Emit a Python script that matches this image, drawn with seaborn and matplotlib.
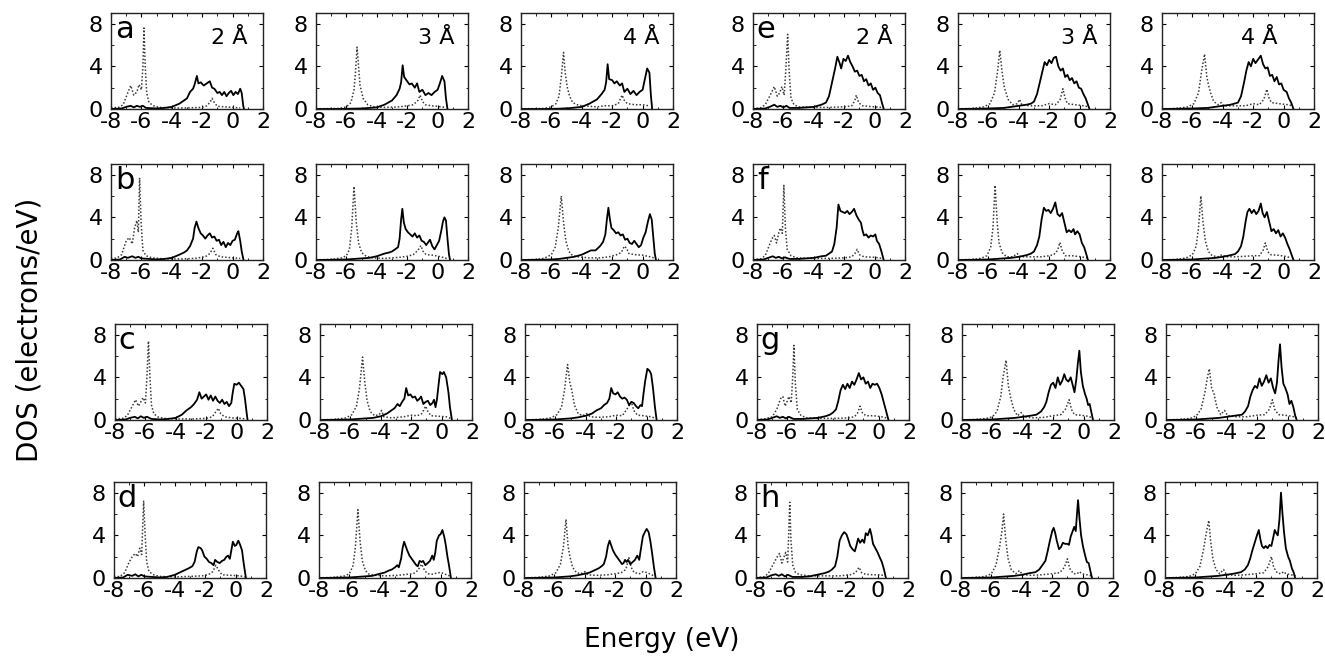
import matplotlib
matplotlib.use("Agg")
import matplotlib.pyplot as plt
import seaborn as sns
import pandas as pd
from matplotlib.ticker import MultipleLocator

# ---------------- data: (energy eV, DOS) key points ----------------
# Left group (a-d) and right group (e-h); columns = 2, 3, 4 Angstrom
a2_solid = [(-8,0),(-7.3,0.05),(-7,0.2),(-6.7,0.3),(-6.5,0.15),(-6.3,0.3),(-6.1,0.2),(-5.9,0.3),(-5.7,0.1),(-5,0.05),(-4.5,0.1),(-4,0.2),(-3.5,0.5),(-3,1.0),(-2.8,1.6),(-2.6,1.9),(-2.5,2.3),(-2.35,3.1),(-2.25,2.4),(-2.1,2.5),(-1.9,2.2),(-1.7,2.4),(-1.5,2.6),(-1.35,2.0),(-1.2,1.9),(-1.0,1.5),(-0.85,1.6),(-0.7,1.3),(-0.55,1.6),(-0.4,1.2),(-0.25,1.5),(-0.1,1.7),(0.05,1.3),(0.2,1.6),(0.35,1.4),(0.5,1.9),(0.6,1.5),(0.7,0.3),(0.75,0)]
a2_dot = [(-8,0.1),(-7.5,0.15),(-7.2,0.4),(-6.9,1.5),(-6.7,2.2),(-6.5,1.3),(-6.3,1.6),(-6.15,2.3),(-6.0,1.8),(-5.9,4.0),(-5.83,7.6),(-5.75,4),(-5.65,1.5),(-5.5,0.6),(-5.2,0.3),(-4.8,0.15),(-4,0.1),(-3,0.1),(-2,0.15),(-1.7,0.3),(-1.5,0.6),(-1.35,1.0),(-1.2,0.6),(-1.0,0.25),(-0.5,0.2),(0,0.15),(0.5,0.1)]
a3_solid = [(-8,0),(-7,0),(-6,0.02),(-5,0.05),(-4,0.15),(-3.5,0.4),(-3,0.8),(-2.7,1.3),(-2.5,1.9),(-2.4,2.5),(-2.3,4.1),(-2.2,3.0),(-2.1,2.8),(-2.0,2.6),(-1.85,2.3),(-1.7,2.4),(-1.5,2.0),(-1.35,2.4),(-1.2,1.6),(-1.0,1.8),(-0.8,1.3),(-0.6,1.5),(-0.4,1.3),(-0.2,1.6),(0,1.8),(0.15,2.4),(0.3,3.1),(0.45,2.6),(0.55,1.0),(0.65,0)]
a3_dot = [(-8,0.02),(-6.5,0.05),(-6,0.2),(-5.7,0.6),(-5.5,1.8),(-5.4,3.5),(-5.3,5.8),(-5.2,4.0),(-5.1,2.2),(-4.9,1.0),(-4.6,0.4),(-4.2,0.2),(-3.5,0.15),(-2.5,0.2),(-2,0.3),(-1.6,0.4),(-1.3,0.8),(-1.15,1.3),(-1.0,0.7),(-0.8,0.4),(-0.4,0.3),(0,0.25),(0.5,0.15)]
a4_solid = [(-8,0),(-6.5,0),(-5.5,0.03),(-4.8,0.08),(-4,0.2),(-3.5,0.5),(-3,0.9),(-2.7,1.4),(-2.5,1.8),(-2.4,2.5),(-2.3,4.2),(-2.2,2.8),(-2.0,2.7),(-1.85,2.4),(-1.7,2.6),(-1.5,2.2),(-1.35,2.4),(-1.2,1.6),(-1.0,1.9),(-0.8,1.4),(-0.6,1.7),(-0.4,1.3),(-0.2,1.6),(0,1.8),(0.15,2.8),(0.3,3.8),(0.45,3.4),(0.55,1.2),(0.63,0)]
a4_dot = [(-8,0.02),(-6.5,0.05),(-6,0.2),(-5.7,0.5),(-5.5,1.2),(-5.35,3.0),(-5.2,5.3),(-5.1,3.5),(-4.95,2.0),(-4.8,1.2),(-4.6,0.6),(-4.3,0.4),(-4,0.3),(-3,0.2),(-2.5,0.3),(-2,0.3),(-1.6,0.5),(-1.35,1.3),(-1.2,0.8),(-1.0,0.5),(-0.5,0.4),(0,0.4),(0.4,0.3)]

b2_solid = [(-8,0),(-7.4,0.05),(-7.1,0.3),(-6.9,0.2),(-6.6,0.35),(-6.4,0.2),(-6.2,0.3),(-6.0,0.15),(-5.5,0.1),(-5,0.05),(-4.5,0.1),(-4,0.2),(-3.5,0.5),(-3.2,0.7),(-3.0,0.9),(-2.8,1.3),(-2.6,2.0),(-2.5,3.0),(-2.38,3.6),(-2.25,3.0),(-2.1,2.5),(-1.95,2.3),(-1.8,2.0),(-1.65,2.3),(-1.5,2.5),(-1.35,2.1),(-1.2,2.2),(-1.05,1.8),(-0.9,1.9),(-0.75,1.4),(-0.6,1.7),(-0.45,1.2),(-0.3,1.6),(-0.15,1.4),(0,1.8),(0.15,1.9),(0.3,2.5),(0.38,2.7),(0.5,1.8),(0.6,0.8),(0.72,0)]
b2_dot = [(-8,0.1),(-7.6,0.2),(-7.3,0.5),(-7.0,1.8),(-6.8,2.1),(-6.6,1.5),(-6.45,3.0),(-6.3,3.7),(-6.2,2.6),(-6.12,7.7),(-6.02,3.5),(-5.9,0.9),(-5.7,0.4),(-5.3,0.2),(-4.5,0.1),(-3.5,0.1),(-2.5,0.15),(-1.8,0.3),(-1.5,0.6),(-1.3,1.1),(-1.1,0.5),(-0.8,0.3),(0,0.2),(0.5,0.15)]
b3_solid = [(-8,0),(-7,0.02),(-6,0.05),(-5.5,0.1),(-5,0.15),(-4.5,0.2),(-4,0.35),(-3.5,0.6),(-3.2,0.7),(-3,0.8),(-2.8,1.0),(-2.6,1.2),(-2.5,2.0),(-2.4,3.8),(-2.32,4.8),(-2.22,3.5),(-2.1,2.9),(-1.95,2.6),(-1.8,2.4),(-1.65,2.2),(-1.5,2.5),(-1.35,2.1),(-1.2,2.3),(-1.05,1.8),(-0.9,1.7),(-0.75,1.4),(-0.6,1.7),(-0.5,1.9),(-0.35,1.3),(-0.2,1.0),(-0.05,1.4),(0.1,1.8),(0.25,2.8),(0.35,3.6),(0.45,4.0),(0.55,3.7),(0.65,2.0),(0.75,0.5),(0.82,0)]
b3_dot = [(-8,0.02),(-7,0.05),(-6.3,0.2),(-6.0,0.4),(-5.8,1.0),(-5.65,3.0),(-5.5,6.9),(-5.35,3.5),(-5.2,1.6),(-5.0,0.7),(-4.7,0.35),(-4.3,0.2),(-3.5,0.15),(-2.5,0.25),(-2.0,0.35),(-1.6,0.5),(-1.3,0.9),(-1.1,1.35),(-0.95,0.8),(-0.75,0.5),(-0.3,0.45),(0.2,0.3),(0.6,0.15)]
b4_solid = [(-8,0),(-7,0.02),(-6,0.05),(-5.5,0.1),(-5,0.2),(-4.5,0.3),(-4,0.5),(-3.7,0.7),(-3.4,0.9),(-3.1,0.9),(-2.8,1.3),(-2.6,1.7),(-2.45,2.4),(-2.35,3.8),(-2.25,4.9),(-2.15,3.8),(-2.05,3.0),(-1.9,2.8),(-1.75,2.5),(-1.6,2.6),(-1.45,2.3),(-1.3,2.4),(-1.15,1.9),(-1.0,2.0),(-0.85,1.6),(-0.7,1.5),(-0.55,1.8),(-0.4,1.5),(-0.25,1.2),(-0.1,1.4),(0.05,2.1),(0.2,2.6),(0.35,3.6),(0.48,4.3),(0.6,3.8),(0.7,2.2),(0.8,0.6),(0.88,0)]
b4_dot = [(-8,0.02),(-7,0.05),(-6.5,0.15),(-6.0,0.5),(-5.75,1.2),(-5.55,3.0),(-5.35,6.0),(-5.2,3.5),(-5.05,1.8),(-4.85,0.8),(-4.6,0.4),(-4.2,0.3),(-3.6,0.2),(-2.8,0.2),(-2.2,0.3),(-1.7,0.5),(-1.4,0.7),(-1.2,1.3),(-1.05,1.1),(-0.9,0.6),(-0.5,0.5),(0,0.45),(0.5,0.3),(0.75,0.2)]

c2_solid = [(-8,0),(-7.3,0.05),(-7.0,0.2),(-6.7,0.3),(-6.5,0.15),(-6.3,0.35),(-6.1,0.2),(-5.9,0.3),(-5.6,0.1),(-5,0.05),(-4.5,0.1),(-4,0.2),(-3.6,0.5),(-3.3,0.9),(-3.0,1.2),(-2.8,1.5),(-2.6,1.9),(-2.45,2.6),(-2.3,2.0),(-2.15,2.2),(-2.0,2.4),(-1.85,1.9),(-1.7,2.3),(-1.55,1.8),(-1.4,2.2),(-1.25,1.8),(-1.1,1.6),(-0.95,1.9),(-0.8,1.5),(-0.65,1.7),(-0.5,1.3),(-0.35,1.6),(-0.25,2.6),(-0.15,3.4),(0,3.3),(0.15,3.5),(0.3,3.2),(0.45,2.9),(0.55,2.0),(0.65,0.8),(0.72,0)]
c2_dot = [(-8,0.1),(-7.5,0.15),(-7.2,0.4),(-6.9,1.2),(-6.65,1.9),(-6.45,1.3),(-6.3,1.7),(-6.15,2.1),(-6.0,1.6),(-5.9,4.0),(-5.8,7.4),(-5.7,4.0),(-5.6,1.4),(-5.45,0.6),(-5.2,0.3),(-4.8,0.15),(-4,0.1),(-3,0.1),(-2,0.15),(-1.6,0.3),(-1.4,0.7),(-1.2,1.1),(-1.05,0.6),(-0.8,0.3),(-0.3,0.2),(0.3,0.15),(0.6,0.1)]
c3_solid = [(-8,0),(-7,0.02),(-6,0.05),(-5.5,0.1),(-5,0.15),(-4.5,0.2),(-4,0.35),(-3.6,0.6),(-3.3,0.9),(-3.1,1.1),(-2.9,1.5),(-2.75,1.3),(-2.6,1.7),(-2.45,2.0),(-2.33,3.0),(-2.2,2.3),(-2.05,2.4),(-1.9,2.1),(-1.75,2.2),(-1.6,1.8),(-1.45,2.0),(-1.35,2.2),(-1.2,1.5),(-1.05,1.7),(-0.9,1.8),(-0.75,1.4),(-0.6,1.6),(-0.5,1.9),(-0.4,1.2),(-0.3,2.0),(-0.2,3.3),(-0.1,4.5),(0.05,4.3),(0.15,4.5),(0.3,4.0),(0.45,2.6),(0.55,1.2),(0.68,0)]
c3_dot = [(-8,0.02),(-7,0.05),(-6.3,0.2),(-5.9,0.5),(-5.6,1.3),(-5.4,3.0),(-5.2,5.9),(-5.05,3.5),(-4.9,1.8),(-4.7,0.8),(-4.4,0.4),(-4.1,0.5),(-3.95,0.9),(-3.8,0.3),(-3.3,0.2),(-2.5,0.3),(-2.0,0.45),(-1.6,0.4),(-1.3,0.6),(-1.05,1.3),(-0.9,0.8),(-0.7,0.4),(-0.2,0.35),(0.3,0.3),(0.6,0.15)]
c4_solid = [(-8,0),(-7,0.02),(-6,0.05),(-5.5,0.1),(-5,0.15),(-4.5,0.25),(-4,0.4),(-3.6,0.6),(-3.3,0.9),(-3.0,1.1),(-2.8,1.4),(-2.6,1.6),(-2.45,2.0),(-2.33,3.0),(-2.2,2.5),(-2.05,2.4),(-1.9,2.6),(-1.75,2.2),(-1.6,2.0),(-1.45,2.1),(-1.3,1.9),(-1.15,1.4),(-1.0,1.7),(-0.85,1.6),(-0.7,1.3),(-0.55,1.1),(-0.4,1.4),(-0.3,1.3),(-0.2,2.5),(-0.1,3.6),(0.05,4.8),(0.2,4.6),(0.3,4.3),(0.42,3.0),(0.55,1.2),(0.66,0)]
c4_dot = [(-8,0.02),(-7,0.05),(-6.3,0.2),(-5.9,0.5),(-5.6,1.2),(-5.4,2.8),(-5.2,5.2),(-5.05,3.5),(-4.92,2.8),(-4.75,1.4),(-4.5,0.6),(-4.2,0.4),(-3.95,0.6),(-3.7,0.3),(-3.2,0.25),(-2.5,0.3),(-2.0,0.45),(-1.6,0.4),(-1.35,0.9),(-1.0,1.7),(-0.85,0.9),(-0.6,0.45),(-0.2,0.4),(0.3,0.3),(0.6,0.15)]

d2_solid = [(-8,0),(-7.4,0.05),(-7.1,0.3),(-6.8,0.2),(-6.6,0.35),(-6.4,0.15),(-6.2,0.3),(-6.0,0.15),(-5.5,0.1),(-5,0.05),(-4.5,0.1),(-4,0.3),(-3.7,0.5),(-3.4,0.7),(-3.1,0.9),(-2.85,1.1),(-2.7,1.5),(-2.55,2.5),(-2.45,2.9),(-2.3,2.8),(-2.2,2.6),(-2.05,2.0),(-1.9,1.8),(-1.75,1.5),(-1.6,1.4),(-1.45,1.2),(-1.35,1.7),(-1.2,1.5),(-1.05,1.4),(-0.9,1.6),(-0.75,1.7),(-0.6,2.0),(-0.5,2.1),(-0.38,1.8),(-0.28,2.6),(-0.18,3.4),(-0.05,3.0),(0.05,3.1),(0.18,3.5),(0.3,3.1),(0.42,2.6),(0.55,1.2),(0.68,0)]
d2_dot = [(-8,0.1),(-7.6,0.15),(-7.3,0.5),(-7.0,1.5),(-6.8,2.0),(-6.6,2.3),(-6.45,2.0),(-6.3,2.8),(-6.18,2.2),(-6.12,4.5),(-6.05,7.2),(-5.95,4.0),(-5.85,1.5),(-5.7,0.6),(-5.4,0.3),(-5.0,0.15),(-4,0.1),(-3,0.15),(-2.2,0.2),(-1.8,0.3),(-1.5,0.6),(-1.3,1.2),(-1.1,0.7),(-0.9,0.3),(-0.3,0.25),(0.3,0.2),(0.6,0.1)]
d3_solid = [(-8,0),(-7,0.02),(-6,0.05),(-5.5,0.1),(-5,0.15),(-4.5,0.2),(-4,0.4),(-3.7,0.5),(-3.4,0.7),(-3.2,0.8),(-3.0,1.0),(-2.85,1.2),(-2.75,1.0),(-2.6,1.8),(-2.5,2.8),(-2.4,3.4),(-2.3,3.0),(-2.2,2.6),(-2.05,2.1),(-1.9,1.8),(-1.75,1.5),(-1.6,1.2),(-1.5,1.1),(-1.38,1.6),(-1.25,1.5),(-1.15,1.6),(-1.0,1.2),(-0.85,1.4),(-0.7,1.6),(-0.55,2.1),(-0.45,1.7),(-0.35,2.4),(-0.25,3.5),(-0.1,4.0),(0.0,4.1),(0.12,4.5),(0.25,3.8),(0.35,3.0),(0.45,2.0),(0.55,1.2),(0.68,0)]
d3_dot = [(-8,0.02),(-7,0.05),(-6.3,0.2),(-6.0,0.4),(-5.75,1.2),(-5.6,3.0),(-5.44,6.4),(-5.3,3.5),(-5.15,1.6),(-4.95,0.7),(-4.7,0.35),(-4.3,0.25),(-3.6,0.2),(-2.8,0.25),(-2.2,0.35),(-1.8,0.4),(-1.5,0.7),(-1.25,1.3),(-1.05,0.7),(-0.85,0.4),(-0.5,0.35),(-0.2,0.5),(0.05,0.5),(0.3,0.35),(0.6,0.2)]
d4_solid = [(-8,0),(-7,0.02),(-6,0.05),(-5.5,0.1),(-5,0.15),(-4.5,0.25),(-4,0.4),(-3.7,0.5),(-3.4,0.7),(-3.1,0.9),(-2.9,1.1),(-2.75,1.3),(-2.6,2.0),(-2.48,3.0),(-2.37,3.5),(-2.25,3.0),(-2.15,2.6),(-2.0,2.2),(-1.85,1.9),(-1.7,1.6),(-1.55,1.3),(-1.45,1.4),(-1.35,1.7),(-1.25,1.5),(-1.15,1.7),(-1.0,1.3),(-0.85,1.5),(-0.7,1.7),(-0.55,2.1),(-0.42,1.7),(-0.3,2.8),(-0.18,3.9),(-0.05,4.3),(0.07,4.6),(0.2,4.3),(0.32,3.4),(0.42,2.4),(0.55,1.0),(0.66,0)]
d4_dot = [(-8,0.02),(-7,0.05),(-6.3,0.2),(-5.9,0.5),(-5.6,1.3),(-5.4,3.0),(-5.24,5.5),(-5.1,3.0),(-4.98,2.0),(-4.8,1.0),(-4.55,0.5),(-4.25,0.4),(-4.0,0.6),(-3.8,0.3),(-3.2,0.25),(-2.5,0.3),(-2.0,0.4),(-1.6,0.5),(-1.3,0.8),(-1.1,1.9),(-0.95,1.0),(-0.75,0.5),(-0.4,0.4),(-0.15,0.6),(0.1,0.5),(0.4,0.3),(0.6,0.15)]

e2_solid = [(-8,0),(-7.2,0.05),(-6.9,0.2),(-6.6,0.4),(-6.4,0.2),(-6.2,0.3),(-6.0,0.15),(-5.8,0.3),(-5.6,0.1),(-5,0.1),(-4.5,0.15),(-4,0.2),(-3.5,0.4),(-3.2,0.6),(-3.0,1.2),(-2.8,2.5),(-2.6,3.8),(-2.45,4.9),(-2.3,4.3),(-2.2,3.8),(-2.05,4.7),(-1.9,4.5),(-1.75,5.0),(-1.6,4.4),(-1.45,4.0),(-1.3,3.5),(-1.15,3.6),(-1.0,3.1),(-0.85,3.2),(-0.7,2.6),(-0.55,2.8),(-0.4,2.2),(-0.25,2.4),(-0.1,1.8),(0.05,2.0),(0.2,1.5),(0.35,1.3),(0.5,0.5),(0.6,0)]
e2_dot = [(-8,0.05),(-7.5,0.1),(-7.2,0.4),(-6.9,1.2),(-6.6,2.1),(-6.4,1.2),(-6.25,1.5),(-6.1,2.1),(-5.95,1.3),(-5.85,3.5),(-5.72,7.0),(-5.62,3.5),(-5.5,1.0),(-5.3,0.4),(-5,0.2),(-4,0.15),(-3,0.15),(-2,0.2),(-1.5,0.3),(-1.3,0.8),(-1.2,1.3),(-1.05,0.6),(-0.8,0.3),(0,0.2),(0.5,0.15)]
e3_solid = [(-8,0),(-7,0.02),(-6,0.05),(-5,0.1),(-4.5,0.2),(-4,0.3),(-3.5,0.4),(-3.2,0.5),(-3.0,0.7),(-2.8,1.4),(-2.6,2.6),(-2.45,3.5),(-2.3,4.4),(-2.15,4.1),(-2.0,4.6),(-1.85,4.3),(-1.7,4.8),(-1.55,4.9),(-1.4,4.0),(-1.25,3.6),(-1.1,3.8),(-0.95,3.0),(-0.8,3.2),(-0.65,2.7),(-0.5,2.9),(-0.35,2.4),(-0.2,2.6),(-0.05,2.0),(0.1,1.9),(0.25,1.4),(0.4,1.0),(0.55,0.4),(0.65,0)]
e3_dot = [(-8,0.02),(-7,0.05),(-6.3,0.2),(-5.9,0.5),(-5.6,1.5),(-5.4,3.5),(-5.25,5.5),(-5.1,3.5),(-4.95,2.0),(-4.7,0.9),(-4.4,0.4),(-4.1,0.5),(-3.95,0.9),(-3.8,0.4),(-3.3,0.3),(-2.5,0.3),(-2.0,0.5),(-1.6,0.4),(-1.3,0.8),(-1.1,1.9),(-0.95,1.0),(-0.8,0.5),(-0.3,0.4),(0.3,0.3),(0.6,0.2)]
e4_solid = [(-8,0),(-7,0.02),(-6,0.05),(-5,0.1),(-4.5,0.2),(-4,0.3),(-3.5,0.4),(-3.0,0.6),(-2.8,1.2),(-2.6,2.5),(-2.45,3.6),(-2.3,4.4),(-2.15,4.0),(-2.0,4.7),(-1.85,4.3),(-1.7,4.6),(-1.5,5.0),(-1.35,4.2),(-1.2,3.8),(-1.05,3.9),(-0.9,3.1),(-0.75,3.2),(-0.6,2.6),(-0.45,3.0),(-0.3,2.3),(-0.15,2.4),(0,1.8),(0.2,1.6),(0.35,1.0),(0.5,0.6),(0.65,0)]
e4_dot = [(-8,0.02),(-7,0.05),(-6.3,0.2),(-5.9,0.5),(-5.6,1.5),(-5.4,3.5),(-5.2,5.15),(-5.05,3.0),(-4.95,2.3),(-4.8,1.5),(-4.6,0.7),(-4.3,0.4),(-4.1,0.6),(-3.95,0.3),(-3.3,0.3),(-2.5,0.3),(-2.0,0.5),(-1.6,0.4),(-1.3,0.9),(-1.1,1.85),(-0.95,1.0),(-0.8,0.6),(-0.3,0.5),(0.3,0.4),(0.6,0.3)]

f2_solid = [(-8,0),(-7.3,0.05),(-7.0,0.2),(-6.7,0.35),(-6.5,0.2),(-6.3,0.3),(-6.1,0.15),(-5.9,0.25),(-5.6,0.1),(-5,0.1),(-4.5,0.15),(-4,0.2),(-3.5,0.35),(-3.2,0.4),(-3.0,0.6),(-2.8,0.8),(-2.65,1.5),(-2.5,3.0),(-2.38,5.2),(-2.25,4.6),(-2.1,4.5),(-1.95,4.4),(-1.8,4.6),(-1.65,4.3),(-1.5,4.5),(-1.35,4.8),(-1.2,4.2),(-1.05,3.8),(-0.9,3.5),(-0.8,2.8),(-0.7,2.3),(-0.55,2.4),(-0.4,2.1),(-0.25,2.3),(-0.1,2.2),(0.05,2.4),(0.15,1.8),(0.3,1.5),(0.45,0.8),(0.6,0)]
f2_dot = [(-8,0.05),(-7.5,0.1),(-7.2,0.4),(-6.95,1.3),(-6.75,2.0),(-6.6,2.3),(-6.45,1.6),(-6.3,2.6),(-6.2,3.0),(-6.07,2.5),(-5.97,7.0),(-5.87,3.0),(-5.75,1.0),(-5.5,0.4),(-5.1,0.2),(-4,0.15),(-3,0.15),(-2,0.2),(-1.5,0.3),(-1.3,0.6),(-1.15,1.0),(-1.0,0.5),(-0.7,0.3),(0,0.25),(0.5,0.15)]
f3_solid = [(-8,0),(-7,0.02),(-6,0.05),(-5.5,0.1),(-5,0.15),(-4.5,0.2),(-4,0.3),(-3.5,0.45),(-3.2,0.6),(-3.0,0.8),(-2.8,1.4),(-2.65,2.2),(-2.5,3.8),(-2.35,4.9),(-2.2,4.6),(-2.05,4.7),(-1.9,4.4),(-1.75,4.8),(-1.6,5.4),(-1.45,4.3),(-1.3,4.1),(-1.15,4.4),(-1.0,3.5),(-0.85,2.6),(-0.7,2.8),(-0.55,2.6),(-0.4,2.9),(-0.3,2.4),(-0.15,2.7),(0,2.4),(0.15,1.6),(0.3,1.2),(0.45,0.5),(0.55,0)]
f3_dot = [(-8,0.02),(-7,0.05),(-6.5,0.15),(-6.1,0.4),(-5.85,1.2),(-5.7,3.0),(-5.56,7.0),(-5.42,3.5),(-5.3,1.6),(-5.1,0.7),(-4.8,0.3),(-4.4,0.3),(-4.1,0.6),(-3.9,0.3),(-3.2,0.3),(-2.5,0.3),(-2.0,0.4),(-1.7,0.5),(-1.45,0.9),(-1.3,1.65),(-1.15,0.9),(-0.95,0.4),(-0.5,0.4),(0.1,0.3),(0.5,0.2)]
f4_solid = [(-8,0),(-7,0.02),(-6,0.05),(-5.5,0.1),(-5,0.15),(-4.5,0.2),(-4,0.3),(-3.5,0.45),(-3.2,0.55),(-3.0,0.8),(-2.8,1.3),(-2.65,2.2),(-2.5,3.6),(-2.38,4.5),(-2.25,4.8),(-2.1,4.4),(-1.95,4.7),(-1.8,4.3),(-1.65,4.6),(-1.5,5.3),(-1.38,4.4),(-1.25,4.0),(-1.1,4.5),(-0.95,3.6),(-0.8,2.7),(-0.65,2.9),(-0.5,2.5),(-0.35,2.8),(-0.2,2.2),(-0.05,2.5),(0.1,2.1),(0.25,1.5),(0.4,1.0),(0.55,0.4),(0.65,0)]
f4_dot = [(-8,0.02),(-7,0.05),(-6.4,0.2),(-6.0,0.5),(-5.75,1.3),(-5.6,3.0),(-5.44,6.0),(-5.3,3.5),(-5.15,1.8),(-4.95,0.8),(-4.7,0.4),(-4.3,0.3),(-4.05,0.5),(-3.8,0.3),(-3.2,0.3),(-2.5,0.35),(-2.0,0.4),(-1.6,0.4),(-1.35,0.9),(-1.2,1.6),(-1.05,0.8),(-0.85,0.5),(-0.4,0.45),(0.1,0.35),(0.5,0.2)]

g2_solid = [(-8,0),(-7.3,0.05),(-7.0,0.2),(-6.7,0.35),(-6.5,0.2),(-6.3,0.3),(-6.1,0.15),(-5.9,0.3),(-5.6,0.1),(-5,0.1),(-4.5,0.15),(-4,0.2),(-3.5,0.35),(-3.2,0.5),(-3.0,0.7),(-2.8,1.0),(-2.65,1.8),(-2.5,2.8),(-2.35,3.3),(-2.2,2.9),(-2.05,3.4),(-1.9,3.0),(-1.75,3.6),(-1.6,3.3),(-1.45,3.8),(-1.3,4.4),(-1.15,3.8),(-1.0,4.0),(-0.85,3.4),(-0.7,3.6),(-0.55,3.0),(-0.4,3.4),(-0.25,3.3),(-0.1,3.4),(0.05,3.0),(0.2,2.4),(0.35,1.6),(0.5,0.8),(0.65,0)]
g2_dot = [(-8,0.05),(-7.5,0.1),(-7.0,0.3),(-6.7,1.0),(-6.45,2.0),(-6.3,2.2),(-6.15,1.3),(-6.0,1.8),(-5.9,2.2),(-5.75,1.6),(-5.65,4.0),(-5.57,7.0),(-5.48,3.5),(-5.35,1.0),(-5.1,0.4),(-4.7,0.2),(-4,0.15),(-3,0.15),(-2,0.2),(-1.6,0.3),(-1.4,0.6),(-1.22,1.3),(-1.05,0.6),(-0.8,0.4),(-0.3,0.4),(0.2,0.3),(0.5,0.2)]
g3_solid = [(-8,0),(-7,0.02),(-6,0.05),(-5.5,0.1),(-5,0.15),(-4.5,0.2),(-4,0.3),(-3.5,0.4),(-3.1,0.5),(-2.8,0.8),(-2.6,1.2),(-2.45,1.7),(-2.3,2.6),(-2.15,3.3),(-2.0,3.5),(-1.85,3.0),(-1.7,4.0),(-1.55,3.3),(-1.4,3.7),(-1.27,4.3),(-1.15,3.8),(-1.0,3.6),(-0.85,4.0),(-0.72,3.3),(-0.6,2.6),(-0.48,3.8),(-0.38,5.3),(-0.28,6.5),(-0.18,4.5),(-0.05,3.2),(0.1,2.4),(0.2,2.0),(0.3,1.4),(0.4,1.5),(0.5,0.8),(0.62,0)]
g3_dot = [(-8,0.02),(-7,0.05),(-6.4,0.15),(-6.0,0.3),(-5.7,0.8),(-5.45,2.2),(-5.3,4.0),(-5.1,5.6),(-4.95,3.2),(-4.8,2.1),(-4.6,1.0),(-4.35,0.4),(-4.1,0.7),(-3.9,0.3),(-3.3,0.2),(-2.6,0.25),(-2.0,0.4),(-1.5,0.5),(-1.2,1.0),(-0.95,1.9),(-0.8,1.0),(-0.6,0.5),(-0.2,0.45),(0.3,0.35),(0.6,0.2)]
g4_solid = [(-8,0),(-7,0.02),(-6,0.05),(-5.5,0.1),(-5,0.15),(-4.5,0.2),(-4,0.3),(-3.5,0.4),(-3.0,0.5),(-2.8,0.8),(-2.6,1.3),(-2.45,2.2),(-2.3,2.8),(-2.15,3.2),(-2.0,3.0),(-1.85,3.9),(-1.7,3.2),(-1.55,3.6),(-1.4,4.2),(-1.25,3.5),(-1.1,3.9),(-0.95,3.0),(-0.82,2.5),(-0.7,3.5),(-0.6,5.5),(-0.5,7.1),(-0.4,5.0),(-0.28,3.4),(-0.15,3.0),(0,2.4),(0.12,1.5),(0.25,1.8),(0.38,1.2),(0.5,0.4),(0.6,0)]
g4_dot = [(-8,0.02),(-7,0.05),(-6.4,0.15),(-6.0,0.4),(-5.7,1.0),(-5.45,2.5),(-5.3,3.8),(-5.15,4.8),(-5.0,3.0),(-4.85,2.5),(-4.65,1.2),(-4.4,0.5),(-4.15,0.9),(-3.95,0.4),(-3.4,0.3),(-2.7,0.3),(-2.0,0.45),(-1.5,0.5),(-1.2,1.0),(-1.0,1.9),(-0.85,1.0),(-0.6,0.5),(-0.2,0.45),(0.3,0.35),(0.6,0.2)]

h2_solid = [(-8,0),(-7.3,0.05),(-7.0,0.25),(-6.7,0.35),(-6.5,0.2),(-6.3,0.35),(-6.1,0.15),(-5.9,0.3),(-5.6,0.1),(-5,0.1),(-4.5,0.15),(-4,0.3),(-3.5,0.45),(-3.2,0.6),(-3.0,0.8),(-2.8,1.1),(-2.65,2.0),(-2.5,3.5),(-2.35,4.0),(-2.2,4.3),(-2.05,4.1),(-1.95,3.7),(-1.8,3.0),(-1.65,2.7),(-1.5,2.5),(-1.4,3.0),(-1.28,3.7),(-1.15,3.3),(-1.0,3.6),(-0.88,3.3),(-0.78,4.2),(-0.65,4.0),(-0.5,4.6),(-0.4,4.0),(-0.3,3.2),(-0.15,2.8),(0.0,2.4),(0.15,1.9),(0.28,1.5),(0.42,0.8),(0.55,0)]
h2_dot = [(-8,0.05),(-7.5,0.1),(-7.2,0.4),(-6.9,1.2),(-6.6,2.0),(-6.45,2.3),(-6.3,1.4),(-6.15,2.0),(-6.05,2.4),(-5.92,1.5),(-5.85,4.0),(-5.78,7.1),(-5.7,3.5),(-5.58,1.2),(-5.4,0.5),(-5.1,0.3),(-4.5,0.2),(-3.5,0.2),(-2.5,0.2),(-1.8,0.3),(-1.45,0.5),(-1.22,1.0),(-1.05,0.5),(-0.8,0.35),(-0.3,0.3),(0.2,0.3),(0.5,0.2)]
h3_solid = [(-8,0),(-7,0.02),(-6,0.05),(-5.5,0.1),(-5,0.15),(-4.5,0.2),(-4,0.3),(-3.5,0.45),(-3.1,0.55),(-2.85,0.8),(-2.6,1.3),(-2.45,1.6),(-2.3,2.5),(-2.15,3.5),(-2.0,4.4),(-1.9,4.7),(-1.8,4.2),(-1.7,3.5),(-1.55,2.7),(-1.42,2.9),(-1.3,3.3),(-1.15,3.2),(-1.0,3.2),(-0.9,3.1),(-0.78,3.9),(-0.65,4.4),(-0.55,4.8),(-0.45,4.4),(-0.38,5.8),(-0.3,7.3),(-0.2,5.5),(-0.1,4.0),(0.02,3.0),(0.15,2.2),(0.28,1.5),(0.4,1.4),(0.52,0.6),(0.62,0)]
h3_dot = [(-8,0.02),(-7,0.05),(-6.4,0.15),(-6.0,0.4),(-5.7,1.2),(-5.45,3.0),(-5.3,4.5),(-5.2,6.0),(-5.05,3.5),(-4.9,1.8),(-4.7,0.8),(-4.4,0.4),(-4.15,0.7),(-3.95,0.3),(-3.4,0.25),(-2.7,0.3),(-2.0,0.4),(-1.5,0.5),(-1.2,1.0),(-1.0,1.8),(-0.85,0.9),(-0.6,0.4),(-0.35,0.4),(-0.22,0.6),(-0.05,0.4),(0.3,0.3),(0.6,0.2)]
h4_solid = [(-8,0),(-7,0.02),(-6,0.05),(-5.5,0.1),(-5,0.15),(-4.5,0.2),(-4,0.3),(-3.5,0.4),(-3.0,0.55),(-2.75,0.8),(-2.55,1.2),(-2.4,1.8),(-2.25,2.6),(-2.1,3.3),(-1.95,4.0),(-1.83,4.5),(-1.72,3.6),(-1.62,3.0),(-1.5,2.8),(-1.38,3.0),(-1.25,2.8),(-1.12,3.1),(-1.0,3.0),(-0.88,3.8),(-0.78,4.5),(-0.68,4.2),(-0.58,4.0),(-0.47,5.5),(-0.37,8.0),(-0.27,6.0),(-0.17,4.3),(-0.05,2.8),(0.1,2.0),(0.22,1.6),(0.35,0.9),(0.47,0.5),(0.56,0)]
h4_dot = [(-8,0.02),(-7,0.05),(-6.4,0.15),(-6.0,0.4),(-5.7,1.1),(-5.45,2.8),(-5.25,4.5),(-5.12,5.4),(-5.0,3.5),(-4.85,1.8),(-4.65,0.8),(-4.4,0.4),(-4.15,0.8),(-3.95,0.3),(-3.4,0.25),(-2.7,0.3),(-2.0,0.4),(-1.5,0.5),(-1.2,1.1),(-1.0,2.0),(-0.85,1.0),(-0.6,0.45),(-0.35,0.4),(-0.2,0.6),(-0.05,0.4),(0.3,0.3),(0.6,0.2)]

row_letters = [["a", "e"], ["b", "f"], ["c", "g"], ["d", "h"]]
distance_labels = ["2 Å", "3 Å", "4 Å", "2 Å", "3 Å", "4 Å"]
x_ticks = [-8, -6, -4, -2, 0, 2]
y_ticks = [0, 4, 8]

grid = [
    [(a2_solid, a2_dot), (a3_solid, a3_dot), (a4_solid, a4_dot), (e2_solid, e2_dot), (e3_solid, e3_dot), (e4_solid, e4_dot)],
    [(b2_solid, b2_dot), (b3_solid, b3_dot), (b4_solid, b4_dot), (f2_solid, f2_dot), (f3_solid, f3_dot), (f4_solid, f4_dot)],
    [(c2_solid, c2_dot), (c3_solid, c3_dot), (c4_solid, c4_dot), (g2_solid, g2_dot), (g3_solid, g3_dot), (g4_solid, g4_dot)],
    [(d2_solid, d2_dot), (d3_solid, d3_dot), (d4_solid, d4_dot), (h2_solid, h2_dot), (h3_solid, h3_dot), (h4_solid, h4_dot)],
]

# ---------------- layout ----------------
sns.set_theme(style="ticks")
plt.rcParams["font.family"] = ["DejaVu Sans"]
plt.rcParams["axes.linewidth"] = 1.0
plt.rcParams["text.color"] = "black"
plt.rcParams["axes.edgecolor"] = "black"
plt.rcParams["xtick.color"] = "black"
plt.rcParams["ytick.color"] = "black"
plt.rcParams["xtick.labelcolor"] = "black"
plt.rcParams["ytick.labelcolor"] = "black"

W, H = 1325, 662
fig = plt.figure(figsize=(W / 100, H / 100), dpi=100)
fig.patch.set_facecolor("white")

col_left = [111, 316, 521, 753, 958, 1162]
row_top = [13, 164, 324, 482]
row_shift = [0, 0, 4, 3]
ax_w, ax_h = 152, 96
label_x = [0.66, 0.67, 0.67, 0.68, 0.68, 0.52]


def to_frame(points):
    return pd.DataFrame(points, columns=["E", "DOS"])


for r in range(4):
    for c in range(6):
        left = col_left[c] + row_shift[r]
        top = row_top[r]
        ax = fig.add_axes([left / W, 1 - (top + ax_h) / H, ax_w / W, ax_h / H])
        solid, dot = grid[r][c]
        sns.lineplot(data=to_frame(dot), x="E", y="DOS", ax=ax, color="#3a3a3a",
                     linewidth=1.1, linestyle=(0, (1, 1.3)), estimator=None,
                     sort=False, legend=False)
        sns.lineplot(data=to_frame(solid), x="E", y="DOS", ax=ax, color="black",
                     linewidth=1.3, estimator=None, sort=False, legend=False)
        ax.set_xlim(-8, 2)
        ax.set_ylim(0, 9)
        ax.set_xticks(x_ticks)
        ax.set_yticks(y_ticks)
        ax.xaxis.set_minor_locator(MultipleLocator(1))
        ax.yaxis.set_minor_locator(MultipleLocator(2))
        ax.set_xticklabels([str(t) for t in x_ticks])
        ax.set_yticklabels([str(t) for t in y_ticks])
        ax.tick_params(which="major", direction="in", top=True, right=True,
                       length=3, width=0.8, labelsize=16, colors="black")
        ax.tick_params(which="minor", direction="in", top=True, right=True,
                       length=1.8, width=0.6, colors="black")
        ax.tick_params(axis="x", which="major", pad=2.5)
        ax.tick_params(axis="y", which="major", pad=6)
        ax.set_xlabel("")
        ax.set_ylabel("")
        for s in ax.spines.values():
            s.set_color("#222222")
            s.set_linewidth(1.0)
        if c in (0, 3):
            ax.text(0.025, 0.74, row_letters[r][0 if c == 0 else 1],
                    transform=ax.transAxes, fontsize=22, va="baseline", ha="left",
                    color="black")
        if r == 0:
            ax.text(label_x[c], 0.68, distance_labels[c], transform=ax.transAxes,
                    fontsize=16, va="baseline", ha="left", color="black")

fig.text(30 / W, 1 - 330 / H, "DOS (electrons/eV)", rotation=90, fontsize=20,
         ha="center", va="center", color="black")
fig.text(662 / W, 1 - 640 / H, "Energy (eV)", fontsize=19, ha="center", va="center",
         color="black")

fig.savefig("out.png", dpi=100, facecolor="white")
